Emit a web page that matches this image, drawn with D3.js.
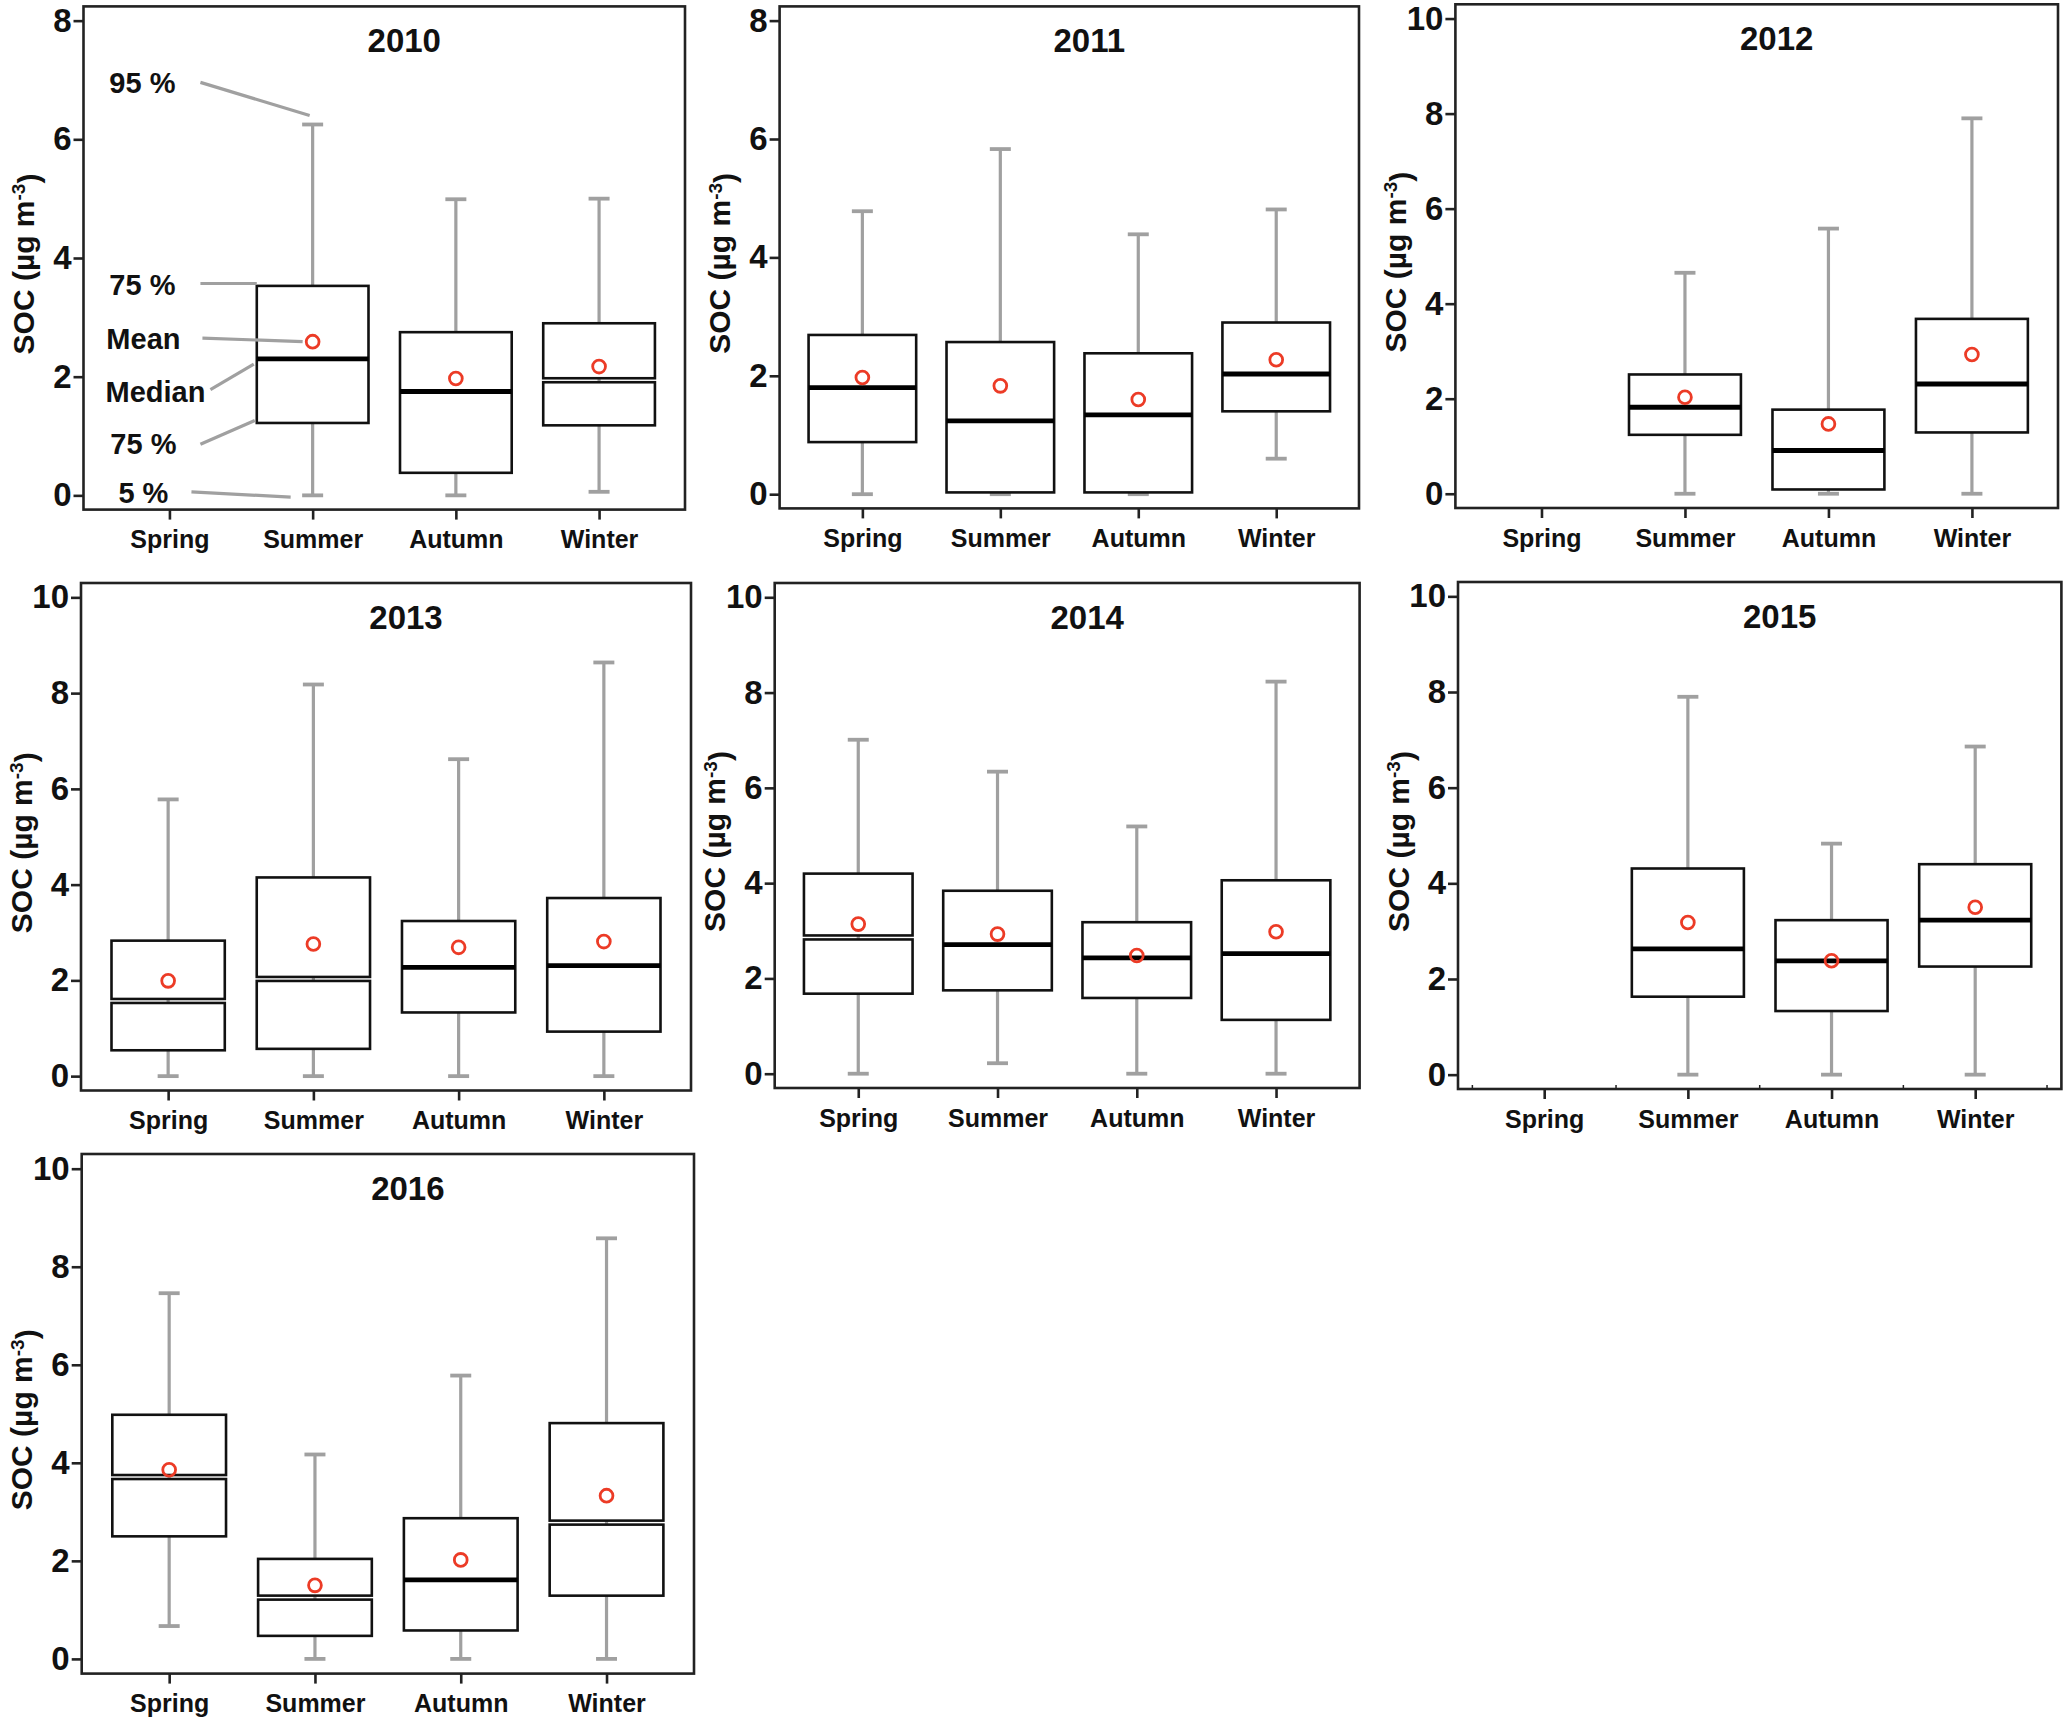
<!DOCTYPE html>
<html>
<head>
<meta charset="utf-8">
<script src="https://cdn.jsdelivr.net/npm/d3@7/dist/d3.min.js"></script>
<style>
  body { margin: 0; background: #fff; }
  text { font-family: "Liberation Sans", Arial, sans-serif; font-weight: bold; fill: #111; }
</style>
</head>
<body>
<svg id="chart"></svg>
<script>
// ==============================
// DATA (SOC, µg m-3) — rows are years, columns are seasons
// ==============================
const years = [2010, 2011, 2012, 2013, 2014, 2015, 2016];
const seasons = ["Spring", "Summer", "Autumn", "Winter"];
const yMaxTick = [8, 8, 10, 10, 10, 10, 10];

const p5Vals = [
  [null, 0, 0, 0.06],
  [0, 0, 0, 0.60],
  [null, 0, 0, 0],
  [0, 0, 0, 0],
  [0, 0.22, 0, 0],
  [null, 0, 0, 0],
  [0.67, 0, 0, 0]
];
const q1Vals = [
  [null, 1.22, 0.38, 1.18],
  [0.88, 0.03, 0.03, 1.40],
  [null, 1.24, 0.09, 1.29],
  [0.54, 0.57, 1.33, 0.93],
  [1.68, 1.75, 1.59, 1.13],
  [null, 1.63, 1.33, 2.26],
  [2.50, 0.47, 0.58, 1.29]
];
const medianVals = [
  [null, 2.30, 1.75, 1.94],
  [1.80, 1.24, 1.34, 2.03],
  [null, 1.82, 0.91, 2.31],
  [1.57, 2.03, 2.27, 2.31],
  [2.86, 2.71, 2.43, 2.52],
  [null, 2.63, 2.38, 3.23],
  [3.71, 1.25, 1.61, 2.78]
];
const q3Vals = [
  [null, 3.53, 2.75, 2.90],
  [2.69, 2.57, 2.38, 2.90],
  [null, 2.51, 1.77, 3.68],
  [2.83, 4.15, 3.24, 3.72],
  [4.20, 3.84, 3.18, 4.06],
  [null, 4.31, 3.23, 4.40],
  [4.98, 2.04, 2.87, 4.81]
];
const p95Vals = [
  [null, 6.25, 4.99, 5.00],
  [4.78, 5.83, 4.39, 4.81],
  [null, 4.65, 5.58, 7.90],
  [5.78, 8.18, 6.62, 8.64],
  [7.01, 6.34, 5.19, 8.23],
  [null, 7.90, 4.83, 6.86],
  [7.46, 4.17, 5.78, 8.58]
];
const meanVals = [
  [null, 2.59, 1.97, 2.17],
  [1.97, 1.83, 1.60, 2.27],
  [null, 2.03, 1.47, 2.93],
  [1.99, 2.76, 2.69, 2.81],
  [3.14, 2.93, 2.48, 2.98],
  [null, 3.18, 2.38, 3.50],
  [3.86, 1.50, 2.02, 3.33]
];
// boxes whose median shows as a gap between two boxes instead of a bold bar
const splitMedians = ["2010-Winter", "2013-Spring", "2013-Summer", "2014-Spring",
                      "2016-Spring", "2016-Summer", "2016-Winter"];

// ==============================
// LAYOUT
// ==============================
const width = 2067;
const height = 1725;

const panelFrames = [
  { x: 83.5, y: 6.4, w: 601.5, h: 503.2 },
  { x: 779.6, y: 6.4, w: 579.4, h: 502 },
  { x: 1455.4, y: 4.3, w: 602.6, h: 503.7 },
  { x: 81, y: 583, w: 610, h: 507.5 },
  { x: 774.7, y: 583, w: 584.9, h: 505 },
  { x: 1458, y: 582, w: 603.4, h: 507 },
  { x: 81.7, y: 1154, w: 612.3, h: 519.6 }
];

const svg = d3.select("#chart")
  .attr("width", width)
  .attr("height", height)
  .attr("viewBox", `0 0 ${width} ${height}`);

svg.append("rect").attr("width", width).attr("height", height).attr("fill", "#fff");

const whiskerColor = "#a0a0a0";
const meanColor = "#ec3b26";

// ==============================
// PANELS
// ==============================
years.forEach((year, i) => {
  const f = panelFrames[i];
  const M = yMaxTick[i];

  const x = d3.scalePoint().domain(seasons).range([f.x, f.x + f.w]).padding(0.6);
  const y = d3.scaleLinear().domain([-0.03 * M, 1.03 * M]).range([f.y + f.h, f.y]);
  const step = x.step();
  const bw = step * 0.78;
  const capW = 21;

  const g = svg.append("g").attr("class", "panel");

  const boxes = seasons.map((s, j) => ({
    season: s,
    p5: p5Vals[i][j], q1: q1Vals[i][j], median: medianVals[i][j],
    q3: q3Vals[i][j], p95: p95Vals[i][j], mean: meanVals[i][j],
    split: splitMedians.includes(`${year}-${s}`)
  })).filter(d => d.median != null);

  // whiskers
  g.selectAll("line.whisker")
    .data(boxes).enter().append("line")
    .attr("x1", d => x(d.season)).attr("x2", d => x(d.season))
    .attr("y1", d => y(d.p5)).attr("y2", d => y(d.p95))
    .attr("stroke", whiskerColor).attr("stroke-width", 3.2);

  ["p5", "p95"].forEach(k => {
    g.selectAll("line.cap-" + k)
      .data(boxes).enter().append("line")
      .attr("x1", d => x(d.season) - capW / 2).attr("x2", d => x(d.season) + capW / 2)
      .attr("y1", d => y(d[k])).attr("y2", d => y(d[k]))
      .attr("stroke", whiskerColor).attr("stroke-width", 3.8);
  });

  // boxes
  boxes.forEach(d => {
    const cx = x(d.season);
    if (d.split) {
      g.append("rect")
        .attr("x", cx - bw / 2).attr("width", bw)
        .attr("y", y(d.q3)).attr("height", y(d.median) - 2 - y(d.q3))
        .attr("fill", "#fff").attr("stroke", "#111").attr("stroke-width", 2.6);
      g.append("rect")
        .attr("x", cx - bw / 2).attr("width", bw)
        .attr("y", y(d.median) + 2).attr("height", y(d.q1) - y(d.median) - 2)
        .attr("fill", "#fff").attr("stroke", "#111").attr("stroke-width", 2.6);
    } else {
      g.append("rect")
        .attr("x", cx - bw / 2).attr("width", bw)
        .attr("y", y(d.q3)).attr("height", y(d.q1) - y(d.q3))
        .attr("fill", "#fff").attr("stroke", "#111").attr("stroke-width", 2.6);
      g.append("line")
        .attr("x1", cx - bw / 2).attr("x2", cx + bw / 2)
        .attr("y1", y(d.median)).attr("y2", y(d.median))
        .attr("stroke", "#000").attr("stroke-width", 4.8);
    }
  });

  // means
  g.selectAll("circle.mean")
    .data(boxes).enter().append("circle")
    .attr("class", "mean")
    .attr("cx", d => x(d.season)).attr("cy", d => y(d.mean))
    .attr("r", 6.4)
    .attr("fill", "none").attr("stroke", meanColor).attr("stroke-width", 2.8);

  // frame
  g.append("rect")
    .attr("x", f.x).attr("y", f.y).attr("width", f.w).attr("height", f.h)
    .attr("fill", "none").attr("stroke", "#222").attr("stroke-width", 2.6);

  // axes
  const yAxis = g.append("g")
    .attr("transform", `translate(${f.x},0)`)
    .call(d3.axisLeft(y).tickValues(d3.range(0, M + 1, 2)).tickSize(10).tickPadding(2));
  yAxis.select(".domain").remove();
  yAxis.selectAll(".tick line").attr("stroke", "#222").attr("stroke-width", 2.6);
  yAxis.selectAll(".tick text").style("font-size", "33px").attr("fill", "#111");

  const xAxis = g.append("g")
    .attr("transform", `translate(0,${f.y + f.h})`)
    .call(d3.axisBottom(x).tickSize(10).tickPadding(11));
  xAxis.select(".domain").remove();
  xAxis.selectAll(".tick line").attr("stroke", "#222").attr("stroke-width", 2.6);
  xAxis.selectAll(".tick text").style("font-size", "25px").attr("fill", "#111");

  if (year === 2015) {
    // small minor ticks between the categories
    const mids = d3.range(0, seasons.length + 1).map(k => f.x + (0.6 + k - 0.5) * step);
    g.selectAll("line.minor").data(mids).enter().append("line")
      .attr("x1", d => d).attr("x2", d => d)
      .attr("y1", f.y + f.h).attr("y2", f.y + f.h - 4)
      .attr("stroke", "#222").attr("stroke-width", 1.5);
  }

  // title
  g.append("text")
    .attr("x", f.x + f.w / 2 + 20).attr("y", f.y + 46)
    .attr("text-anchor", "middle")
    .style("font-size", "33px")
    .text(year);

  // y label
  const yl = g.append("text")
    .attr("transform", `translate(${f.x - 60},${f.y + f.h / 2 + 6}) rotate(-90)`)
    .attr("text-anchor", "middle")
    .attr("dy", "0.35em")
    .style("font-size", "30px");
  yl.append("tspan").text("SOC (µg m");
  yl.append("tspan").attr("dy", "-0.45em").style("font-size", "19px").text("-3");
  yl.append("tspan").attr("dy", "0.45em").text(")");

  // legend-style annotations on the first panel
  if (year === 2010) {
    const ref = boxes.find(d => d.season === "Summer");
    const sx = x("Spring");
    const rx = x("Summer");
    const annotations = [
      { label: "95 %", ty: 6.96, tx: -27, lx: 31, ly: 6.96, ex: rx - 3, ey: ref.p95 + 0.15 },
      { label: "75 %", ty: 3.54, tx: -27, lx: 31, ly: ref.q3 + 0.04, ex: rx - bw / 2, ey: ref.q3 + 0.04 },
      { label: "Mean", ty: 2.64, tx: -26, lx: 33, ly: 2.65, ex: rx - 10, ey: ref.mean },
      { label: "Median", ty: 1.75, tx: -14, lx: 41, ly: 1.78, ex: rx - bw / 2 - 3, ey: ref.median - 0.09 },
      { label: "75 %", ty: 0.86, tx: -26, lx: 31, ly: 0.86, ex: rx - bw / 2 - 2, ey: ref.q1 + 0.04 },
      { label: "5 %", ty: 0.04, tx: -26, lx: 22, ly: 0.06, ex: rx - 22, ey: ref.p5 - 0.03 }
    ];
    g.selectAll("line.annot").data(annotations).enter().append("line")
      .attr("x1", d => sx + d.lx).attr("y1", d => y(d.ly))
      .attr("x2", d => d.ex).attr("y2", d => y(d.ey))
      .attr("stroke", whiskerColor).attr("stroke-width", 3.2);
    g.selectAll("text.annot").data(annotations).enter().append("text")
      .attr("x", d => sx + d.tx).attr("y", d => y(d.ty))
      .attr("dy", "0.35em")
      .attr("text-anchor", "middle")
      .style("font-size", "29px")
      .text(d => d.label);
  }
});
</script>
</body>
</html>
